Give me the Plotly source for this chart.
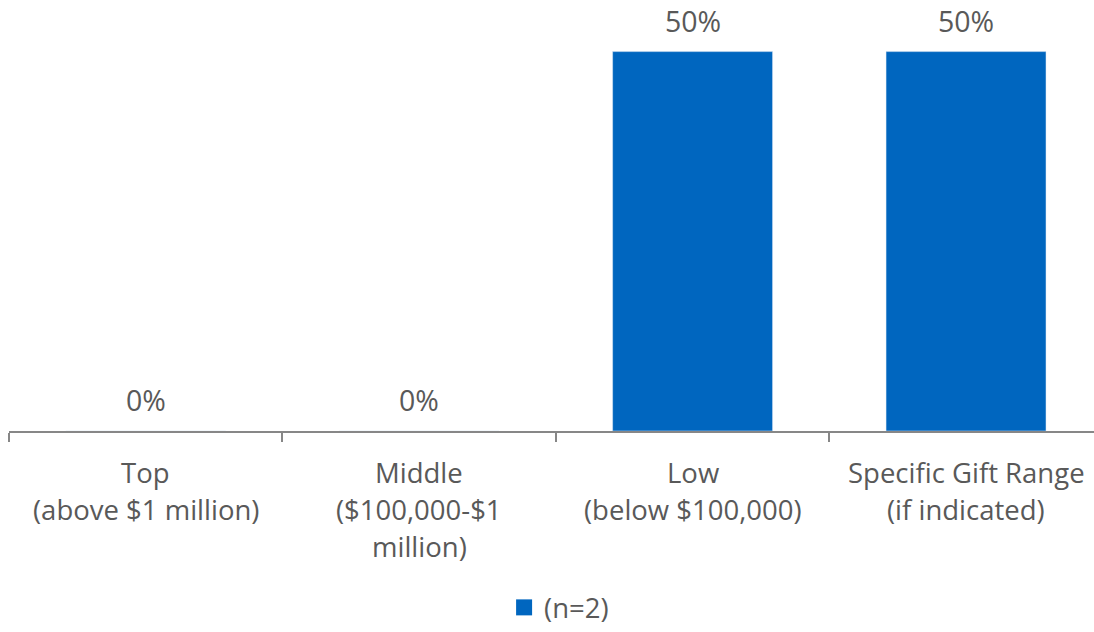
import plotly.graph_objects as go

categories = ["Top", "Middle", "Low", "Specific Gift Range"]
category_labels = [
    ["Top", "(above $1 million)"],
    ["Middle", "($100,000-$1", "million)"],
    ["Low", "(below $100,000)"],
    ["Specific Gift Range", "(if indicated)"],
]
values = [0, 0, 50, 50]
series_name = "(n=2)"

BLUE = "#0066BF"
GREY_TEXT = "#595959"
AXIS_GREY = "#878787"
FONT = "Open Sans"
AXIS_SIZE = 27.5
VALUE_SIZE = 28.5

fig = go.Figure()
fig.add_trace(go.Bar(
    x=categories,
    y=values,
    marker_color=BLUE,
    showlegend=False,
    name=series_name,
))
# legend entry with a larger square swatch
fig.add_trace(go.Scatter(
    x=[None], y=[None], mode="markers",
    marker=dict(symbol="square", size=16, color=BLUE),
    name=series_name, showlegend=True,
))

annotations = []
# value labels above each bar
for cat, v in zip(categories, values):
    annotations.append(dict(
        x=cat, y=v, xref="x", yref="y", text=f"{v}%",
        showarrow=False, yanchor="middle", yshift=31,
        font=dict(size=VALUE_SIZE, color=GREY_TEXT, family=FONT),
    ))
# multi-line category labels under the axis
for cat, lines in zip(categories, category_labels):
    for i, line in enumerate(lines):
        annotations.append(dict(
            x=cat, y=0, xref="x", yref="paper", text=line,
            showarrow=False, yanchor="middle", yshift=-(41 + 37 * i),
            font=dict(size=AXIS_SIZE, color=GREY_TEXT, family=FONT),
        ))

fig.update_layout(
    width=1094, height=632,
    margin=dict(l=9, r=0, t=0, b=198),
    paper_bgcolor="white", plot_bgcolor="white",
    bargap=0.415,
    font=dict(family=FONT, size=AXIS_SIZE, color=GREY_TEXT),
    showlegend=True,
    legend=dict(
        orientation="h", x=0.507, xanchor="center", y=-0.41, yanchor="middle",
        font=dict(size=AXIS_SIZE, color=GREY_TEXT, family=FONT),
        itemwidth=30,
    ),
    annotations=annotations,
    xaxis=dict(
        type="category",
        range=[-0.5, 3.468],
        showline=True, linecolor=AXIS_GREY, linewidth=2,
        ticks="outside", tickson="boundaries", ticklen=9,
        tickwidth=2, tickcolor=AXIS_GREY,
        showticklabels=False,
        showgrid=False, zeroline=False,
    ),
    yaxis=dict(
        range=[0, 56.8], visible=False, showgrid=False, zeroline=False,
    ),
)

fig.write_html("out.html")
